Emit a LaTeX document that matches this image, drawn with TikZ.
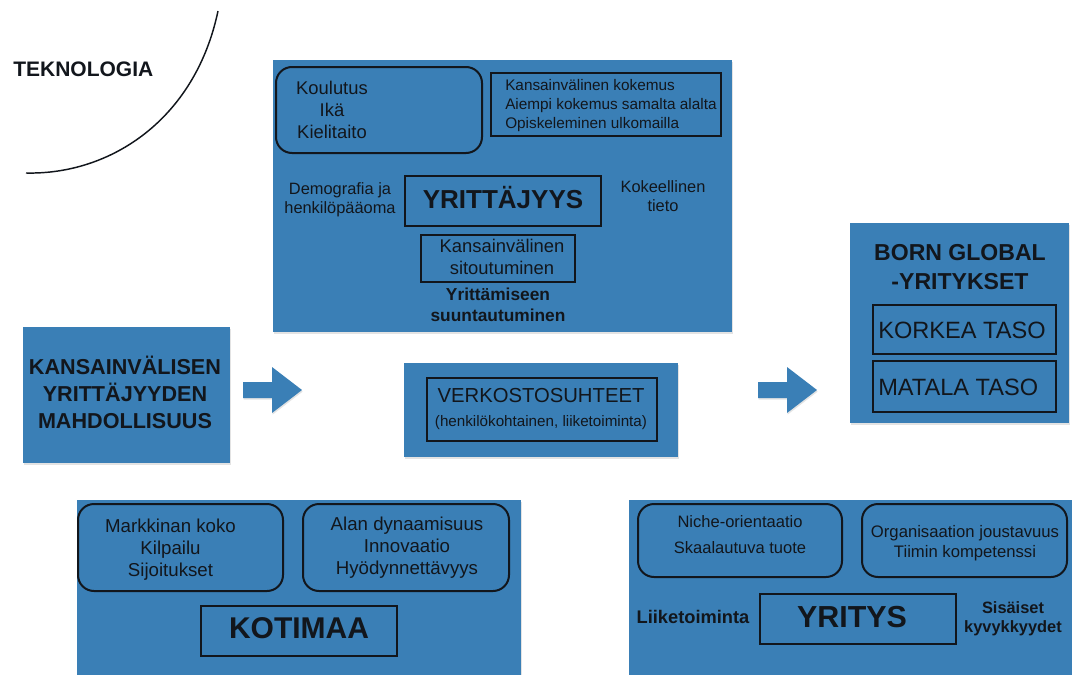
\documentclass[tikz,border=0pt]{standalone}
\usepackage{fontspec}
\setmainfont{Liberation Sans}
\usetikzlibrary{fit,shadows}
\definecolor{panelblue}{RGB}{58,127,182}
\definecolor{ink}{RGB}{18,22,28}
\newcommand\setfs[2]{\fontsize{#1}{#2}\selectfont}

\begin{document}
\begin{tikzpicture}[x=0.75pt,y=-0.75pt,
  panel/.style={fill=panelblue, inner sep=0pt,
    drop shadow={shadow xshift=0.5pt, shadow yshift=-1.6pt, opacity=0.22}},
  frame/.style={draw=ink, line width=1.5pt, inner sep=0pt},
  rframe/.style={frame, rounded corners=12pt},
  txt/.style={text=ink, inner sep=0pt, align=center},
  blockarrow/.style={fill=panelblue,
    drop shadow={shadow xshift=0.5pt, shadow yshift=-1.2pt, opacity=0.22}}]

\clip (0,0) rectangle (1072,675);

% technology curve
\node[txt, font=\bfseries\setfs{15.75}{18}, anchor=base west] (tekno) at (13,76) {TEKNOLOGIA};
\coordinate (curvetop) at (218,11);
\coordinate (curvebottom) at (26,173);
\draw[ink, line width=1.1pt] (curvetop) .. controls (195,120) and (110,175) .. (curvebottom);

% entrepreneurship panel (multi-line nodes are anchored at the last baseline)
\node[panel, fit={(273,60) (732,332)}] (ptop) {};
\node[rframe, fit={(276,67) (482,153)}] (demobox) {};
\node[frame, fit={(491,73) (721,136)}] (kokbox) {};
\node[frame, fit={(405,176) (601,226)}] (yritbox) {};
\node[frame, fit={(421,235) (575,282)}] (sitbox) {};
\node[txt, font=\setfs{13.8}{16.5}, anchor=base] (demo) at (332,138) {Koulutus\\Ikä\\Kielitaito};
\node[txt, align=left, font=\setfs{11.5}{13.9}, anchor=base west] (kok) at (505,128)
  {Kansainvälinen kokemus\\Aiempi kokemus samalta alalta\\Opiskeleminen ulkomailla};
\node[txt, font=\bfseries\setfs{19.5}{24}, anchor=base] (yrit) at (503,208) {YRITTÄJYYS};
\node[txt, font=\setfs{12.3}{14.25}, anchor=base] (demog) at (340,213) {Demografia ja\\henkilöpääoma};
\node[txt, font=\setfs{12.3}{14.25}, anchor=base] (koke) at (663,211) {Kokeellinen\\tieto};
\node[txt, font=\setfs{13.8}{16.5}, anchor=base] (sit) at (502,274) {Kansainvälinen\\sitoutuminen};
\node[txt, font=\bfseries\setfs{13}{15.75}, anchor=base] (suunt) at (498,321) {Yrittämiseen\\suuntautuminen};

% opportunity panel
\node[panel, fit={(23,327) (230,463)}] (pleft) {};
\node[txt, font=\bfseries\setfs{16.2}{19.9}, anchor=base] (mahd) at (125,428)
  {KANSAINVÄLISEN\\YRITTÄJYYDEN\\MAHDOLLISUUS};

% block arrows
\coordinate (arrowA) at (243,390);
\coordinate (arrowB) at (758,390);
\foreach \a in {arrowA,arrowB}
  \fill[blockarrow] (\a) ++(0,-8) -- ++(29,0) -- ++(0,-15) -- ++(30,23)
    -- ++(-30,23) -- ++(0,-15) -- ++(-29,0) -- cycle;

% networks panel
\node[panel, fit={(404,363) (678,457)}] (pmid) {};
\node[frame, fit={(427,378) (657,441)}] (verkbox) {};
\node[txt, font=\setfs{15.2}{18}, anchor=base] (verk) at (541,402) {VERKOSTOSUHTEET};
\node[txt, font=\setfs{11.4}{14}, anchor=base] (verksub) at (541,426) {(henkilökohtainen, liiketoiminta)};

% born global panel
\node[panel, fit={(850,223) (1069,423)}] (pbg) {};
\node[txt, font=\bfseries\setfs{17.3}{21.75}, anchor=base] (bg) at (960,289) {BORN GLOBAL\\-YRITYKSET};
\node[frame, fit={(873,305) (1056,354)}] (korkbox) {};
\node[frame, fit={(873,361) (1056,412)}] (matbox) {};
\node[txt, font=\setfs{17.7}{21}, anchor=base west] (kork) at (878,338) {KORKEA TASO};
\node[txt, font=\setfs{17.7}{21}, anchor=base west] (mat) at (878,395) {MATALA TASO};

% home country panel
\node[panel, fit={(77,500) (521,690)}] (pbl) {};
\node[rframe, fit={(78,504) (283,591)}] (mkbox) {};
\node[rframe, fit={(303,504) (509,591)}] (alabox) {};
\node[frame, fit={(201,606) (397,656)}] (kotibox) {};
\node[txt, font=\setfs{14}{16.5}, anchor=base] (mk) at (170.5,576) {Markkinan koko\\Kilpailu\\Sijoitukset};
\node[txt, font=\setfs{14}{16.5}, anchor=base] (ala) at (407,574) {Alan dynaamisuus\\Innovaatio\\Hyödynnettävyys};
\node[txt, font=\bfseries\setfs{22.5}{27}, anchor=base] (koti) at (299,638) {KOTIMAA};

% firm panel
\node[panel, fit={(629,500) (1085,690)}] (pbr) {};
\node[rframe, fit={(638,504) (842,577)}] (nichebox) {};
\node[rframe, fit={(862,504) (1067,577)}] (orgbox) {};
\node[frame, fit={(760,594) (956,644)}] (yritysbox) {};
\node[txt, font=\setfs{12.4}{19.5}, anchor=base] (niche) at (740,553) {Niche-orientaatio\\Skaalautuva tuote};
\node[txt, font=\setfs{12.5}{15}, anchor=base] (org) at (965,557) {Organisaation joustavuus\\Tiimin kompetenssi};
\node[txt, font=\bfseries\setfs{22.8}{27}, anchor=base] (yritys) at (852,627) {YRITYS};
\node[txt, font=\bfseries\setfs{13.7}{16}, anchor=base] (liike) at (693,623) {Liiketoiminta};
\node[txt, font=\bfseries\setfs{12.3}{14.25}, anchor=base] (sis) at (1013,632) {Sisäiset\\kyvykkyydet};
\end{tikzpicture}
\end{document}
